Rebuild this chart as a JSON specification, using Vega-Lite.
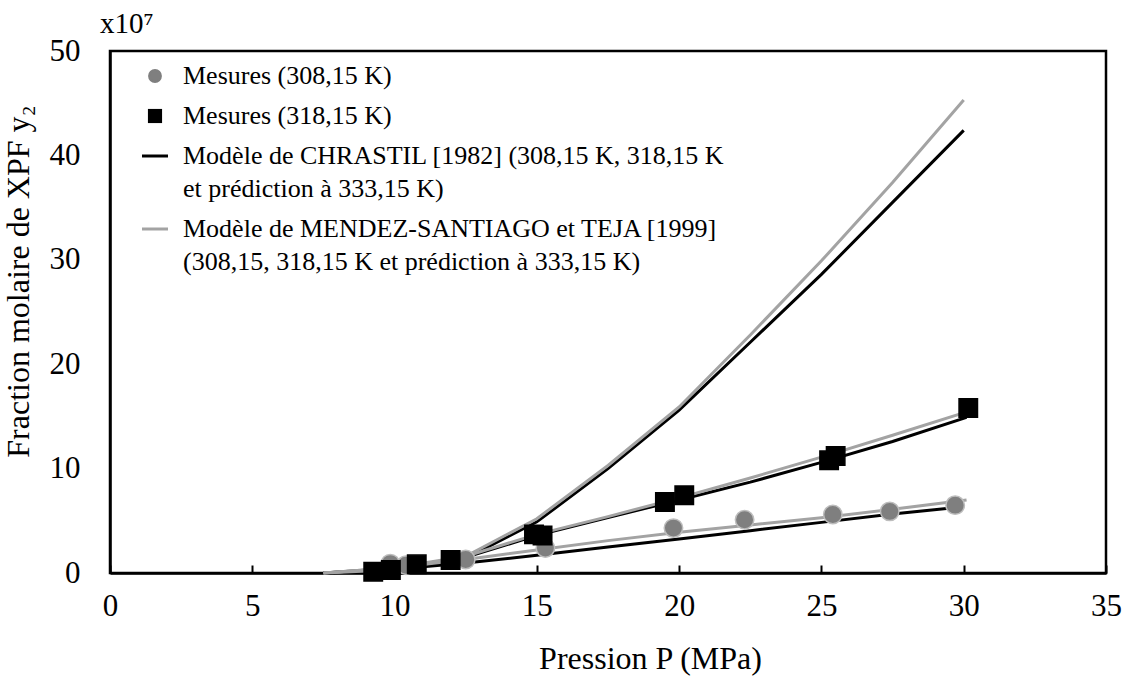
{
  "$schema": "https://vega.github.io/schema/vega-lite/v6.json",
  "width": 996,
  "height": 522,
  "autosize": {"type": "none"},
  "padding": {"left": 110, "top": 51, "right": 23, "bottom": 115},
  "background": "white",
  "config": {
    "view": {"stroke": "black", "strokeWidth": 2.5},
    "font": "Liberation Serif",
    "axis": {
      "domainColor": "black", "domainWidth": 2.5,
      "tickColor": "black", "tickWidth": 2,
      "labelColor": "black", "labelFont": "Liberation Serif", "labelFontSize": 31,
      "titleFont": "Liberation Serif", "titleFontSize": 32, "titleFontWeight": "normal", "titleColor": "black",
      "grid": false, "labelFlush": false
    }
  },
  "title": {"text": "x10⁷", "anchor": "start", "frame": "group", "fontSize": 29, "fontWeight": "normal", "font": "Liberation Serif", "color": "black", "dx": -10, "dy": 14, "offset": 10},
  "data": {"values": [
    {"type": "model", "serie": "Modèle de CHRASTIL [1982] (308,15 K, 318,15 K\net prédiction à 333,15 K)", "T": 308, "P": 7.5, "y2": 0},
    {"type": "model", "serie": "Modèle de CHRASTIL [1982] (308,15 K, 318,15 K\net prédiction à 333,15 K)", "T": 308, "P": 10, "y2": 0.35},
    {"type": "model", "serie": "Modèle de CHRASTIL [1982] (308,15 K, 318,15 K\net prédiction à 333,15 K)", "T": 308, "P": 12.5, "y2": 0.95},
    {"type": "model", "serie": "Modèle de CHRASTIL [1982] (308,15 K, 318,15 K\net prédiction à 333,15 K)", "T": 308, "P": 15, "y2": 1.7},
    {"type": "model", "serie": "Modèle de CHRASTIL [1982] (308,15 K, 318,15 K\net prédiction à 333,15 K)", "T": 308, "P": 17.5, "y2": 2.5},
    {"type": "model", "serie": "Modèle de CHRASTIL [1982] (308,15 K, 318,15 K\net prédiction à 333,15 K)", "T": 308, "P": 20, "y2": 3.25},
    {"type": "model", "serie": "Modèle de CHRASTIL [1982] (308,15 K, 318,15 K\net prédiction à 333,15 K)", "T": 308, "P": 22.5, "y2": 4.05},
    {"type": "model", "serie": "Modèle de CHRASTIL [1982] (308,15 K, 318,15 K\net prédiction à 333,15 K)", "T": 308, "P": 25, "y2": 4.85},
    {"type": "model", "serie": "Modèle de CHRASTIL [1982] (308,15 K, 318,15 K\net prédiction à 333,15 K)", "T": 308, "P": 27.5, "y2": 5.65},
    {"type": "model", "serie": "Modèle de CHRASTIL [1982] (308,15 K, 318,15 K\net prédiction à 333,15 K)", "T": 308, "P": 30, "y2": 6.35},
    {"type": "model", "serie": "Modèle de CHRASTIL [1982] (308,15 K, 318,15 K\net prédiction à 333,15 K)", "T": 318, "P": 7.5, "y2": 0},
    {"type": "model", "serie": "Modèle de CHRASTIL [1982] (308,15 K, 318,15 K\net prédiction à 333,15 K)", "T": 318, "P": 10, "y2": 0.45},
    {"type": "model", "serie": "Modèle de CHRASTIL [1982] (308,15 K, 318,15 K\net prédiction à 333,15 K)", "T": 318, "P": 12.5, "y2": 1.5},
    {"type": "model", "serie": "Modèle de CHRASTIL [1982] (308,15 K, 318,15 K\net prédiction à 333,15 K)", "T": 318, "P": 15, "y2": 3.6},
    {"type": "model", "serie": "Modèle de CHRASTIL [1982] (308,15 K, 318,15 K\net prédiction à 333,15 K)", "T": 318, "P": 17.5, "y2": 5.3},
    {"type": "model", "serie": "Modèle de CHRASTIL [1982] (308,15 K, 318,15 K\net prédiction à 333,15 K)", "T": 318, "P": 20, "y2": 7.0},
    {"type": "model", "serie": "Modèle de CHRASTIL [1982] (308,15 K, 318,15 K\net prédiction à 333,15 K)", "T": 318, "P": 22.5, "y2": 8.7},
    {"type": "model", "serie": "Modèle de CHRASTIL [1982] (308,15 K, 318,15 K\net prédiction à 333,15 K)", "T": 318, "P": 25, "y2": 10.6},
    {"type": "model", "serie": "Modèle de CHRASTIL [1982] (308,15 K, 318,15 K\net prédiction à 333,15 K)", "T": 318, "P": 27.5, "y2": 12.6},
    {"type": "model", "serie": "Modèle de CHRASTIL [1982] (308,15 K, 318,15 K\net prédiction à 333,15 K)", "T": 318, "P": 30.1, "y2": 14.9},
    {"type": "model", "serie": "Modèle de CHRASTIL [1982] (308,15 K, 318,15 K\net prédiction à 333,15 K)", "T": 333, "P": 7.5, "y2": 0},
    {"type": "model", "serie": "Modèle de CHRASTIL [1982] (308,15 K, 318,15 K\net prédiction à 333,15 K)", "T": 333, "P": 10, "y2": 0.25},
    {"type": "model", "serie": "Modèle de CHRASTIL [1982] (308,15 K, 318,15 K\net prédiction à 333,15 K)", "T": 333, "P": 12.5, "y2": 1.4},
    {"type": "model", "serie": "Modèle de CHRASTIL [1982] (308,15 K, 318,15 K\net prédiction à 333,15 K)", "T": 333, "P": 15, "y2": 4.9},
    {"type": "model", "serie": "Modèle de CHRASTIL [1982] (308,15 K, 318,15 K\net prédiction à 333,15 K)", "T": 333, "P": 17.5, "y2": 10.0},
    {"type": "model", "serie": "Modèle de CHRASTIL [1982] (308,15 K, 318,15 K\net prédiction à 333,15 K)", "T": 333, "P": 20, "y2": 15.6},
    {"type": "model", "serie": "Modèle de CHRASTIL [1982] (308,15 K, 318,15 K\net prédiction à 333,15 K)", "T": 333, "P": 22.5, "y2": 22.1},
    {"type": "model", "serie": "Modèle de CHRASTIL [1982] (308,15 K, 318,15 K\net prédiction à 333,15 K)", "T": 333, "P": 25, "y2": 28.6},
    {"type": "model", "serie": "Modèle de CHRASTIL [1982] (308,15 K, 318,15 K\net prédiction à 333,15 K)", "T": 333, "P": 27.5, "y2": 35.5},
    {"type": "model", "serie": "Modèle de CHRASTIL [1982] (308,15 K, 318,15 K\net prédiction à 333,15 K)", "T": 333, "P": 30, "y2": 42.4},
    {"type": "model", "serie": "Modèle de MENDEZ-SANTIAGO et TEJA [1999]\n(308,15, 318,15 K et prédiction à 333,15 K)", "T": 308, "P": 7.5, "y2": 0},
    {"type": "model", "serie": "Modèle de MENDEZ-SANTIAGO et TEJA [1999]\n(308,15, 318,15 K et prédiction à 333,15 K)", "T": 308, "P": 10, "y2": 0.5},
    {"type": "model", "serie": "Modèle de MENDEZ-SANTIAGO et TEJA [1999]\n(308,15, 318,15 K et prédiction à 333,15 K)", "T": 308, "P": 12.5, "y2": 1.3},
    {"type": "model", "serie": "Modèle de MENDEZ-SANTIAGO et TEJA [1999]\n(308,15, 318,15 K et prédiction à 333,15 K)", "T": 308, "P": 15, "y2": 2.2},
    {"type": "model", "serie": "Modèle de MENDEZ-SANTIAGO et TEJA [1999]\n(308,15, 318,15 K et prédiction à 333,15 K)", "T": 308, "P": 17.5, "y2": 3.1},
    {"type": "model", "serie": "Modèle de MENDEZ-SANTIAGO et TEJA [1999]\n(308,15, 318,15 K et prédiction à 333,15 K)", "T": 308, "P": 20, "y2": 3.9},
    {"type": "model", "serie": "Modèle de MENDEZ-SANTIAGO et TEJA [1999]\n(308,15, 318,15 K et prédiction à 333,15 K)", "T": 308, "P": 22.5, "y2": 4.6},
    {"type": "model", "serie": "Modèle de MENDEZ-SANTIAGO et TEJA [1999]\n(308,15, 318,15 K et prédiction à 333,15 K)", "T": 308, "P": 25, "y2": 5.3},
    {"type": "model", "serie": "Modèle de MENDEZ-SANTIAGO et TEJA [1999]\n(308,15, 318,15 K et prédiction à 333,15 K)", "T": 308, "P": 27.5, "y2": 6.1},
    {"type": "model", "serie": "Modèle de MENDEZ-SANTIAGO et TEJA [1999]\n(308,15, 318,15 K et prédiction à 333,15 K)", "T": 308, "P": 30.1, "y2": 7.0},
    {"type": "model", "serie": "Modèle de MENDEZ-SANTIAGO et TEJA [1999]\n(308,15, 318,15 K et prédiction à 333,15 K)", "T": 318, "P": 7.5, "y2": 0},
    {"type": "model", "serie": "Modèle de MENDEZ-SANTIAGO et TEJA [1999]\n(308,15, 318,15 K et prédiction à 333,15 K)", "T": 318, "P": 10, "y2": 0.5},
    {"type": "model", "serie": "Modèle de MENDEZ-SANTIAGO et TEJA [1999]\n(308,15, 318,15 K et prédiction à 333,15 K)", "T": 318, "P": 12.5, "y2": 1.6},
    {"type": "model", "serie": "Modèle de MENDEZ-SANTIAGO et TEJA [1999]\n(308,15, 318,15 K et prédiction à 333,15 K)", "T": 318, "P": 15, "y2": 3.7},
    {"type": "model", "serie": "Modèle de MENDEZ-SANTIAGO et TEJA [1999]\n(308,15, 318,15 K et prédiction à 333,15 K)", "T": 318, "P": 17.5, "y2": 5.4},
    {"type": "model", "serie": "Modèle de MENDEZ-SANTIAGO et TEJA [1999]\n(308,15, 318,15 K et prédiction à 333,15 K)", "T": 318, "P": 20, "y2": 7.2},
    {"type": "model", "serie": "Modèle de MENDEZ-SANTIAGO et TEJA [1999]\n(308,15, 318,15 K et prédiction à 333,15 K)", "T": 318, "P": 22.5, "y2": 9.1},
    {"type": "model", "serie": "Modèle de MENDEZ-SANTIAGO et TEJA [1999]\n(308,15, 318,15 K et prédiction à 333,15 K)", "T": 318, "P": 25, "y2": 11.1},
    {"type": "model", "serie": "Modèle de MENDEZ-SANTIAGO et TEJA [1999]\n(308,15, 318,15 K et prédiction à 333,15 K)", "T": 318, "P": 27.5, "y2": 13.2},
    {"type": "model", "serie": "Modèle de MENDEZ-SANTIAGO et TEJA [1999]\n(308,15, 318,15 K et prédiction à 333,15 K)", "T": 318, "P": 30.3, "y2": 15.6},
    {"type": "model", "serie": "Modèle de MENDEZ-SANTIAGO et TEJA [1999]\n(308,15, 318,15 K et prédiction à 333,15 K)", "T": 333, "P": 7.5, "y2": 0},
    {"type": "model", "serie": "Modèle de MENDEZ-SANTIAGO et TEJA [1999]\n(308,15, 318,15 K et prédiction à 333,15 K)", "T": 333, "P": 10, "y2": 0.3},
    {"type": "model", "serie": "Modèle de MENDEZ-SANTIAGO et TEJA [1999]\n(308,15, 318,15 K et prédiction à 333,15 K)", "T": 333, "P": 12.5, "y2": 1.6},
    {"type": "model", "serie": "Modèle de MENDEZ-SANTIAGO et TEJA [1999]\n(308,15, 318,15 K et prédiction à 333,15 K)", "T": 333, "P": 15, "y2": 5.2},
    {"type": "model", "serie": "Modèle de MENDEZ-SANTIAGO et TEJA [1999]\n(308,15, 318,15 K et prédiction à 333,15 K)", "T": 333, "P": 17.5, "y2": 10.3},
    {"type": "model", "serie": "Modèle de MENDEZ-SANTIAGO et TEJA [1999]\n(308,15, 318,15 K et prédiction à 333,15 K)", "T": 333, "P": 20, "y2": 15.9},
    {"type": "model", "serie": "Modèle de MENDEZ-SANTIAGO et TEJA [1999]\n(308,15, 318,15 K et prédiction à 333,15 K)", "T": 333, "P": 22.5, "y2": 22.8},
    {"type": "model", "serie": "Modèle de MENDEZ-SANTIAGO et TEJA [1999]\n(308,15, 318,15 K et prédiction à 333,15 K)", "T": 333, "P": 25, "y2": 29.9},
    {"type": "model", "serie": "Modèle de MENDEZ-SANTIAGO et TEJA [1999]\n(308,15, 318,15 K et prédiction à 333,15 K)", "T": 333, "P": 27.5, "y2": 37.4},
    {"type": "model", "serie": "Modèle de MENDEZ-SANTIAGO et TEJA [1999]\n(308,15, 318,15 K et prédiction à 333,15 K)", "T": 333, "P": 30, "y2": 45.3},
    {"type": "mesure", "serie": "Mesures (308,15 K)", "T": 308, "P": 9.85, "y2": 0.9},
    {"type": "mesure", "serie": "Mesures (308,15 K)", "T": 308, "P": 10.4, "y2": 0.75},
    {"type": "mesure", "serie": "Mesures (308,15 K)", "T": 308, "P": 12.5, "y2": 1.3},
    {"type": "mesure", "serie": "Mesures (308,15 K)", "T": 308, "P": 15.3, "y2": 2.4},
    {"type": "mesure", "serie": "Mesures (308,15 K)", "T": 308, "P": 19.8, "y2": 4.3},
    {"type": "mesure", "serie": "Mesures (308,15 K)", "T": 308, "P": 22.3, "y2": 5.1},
    {"type": "mesure", "serie": "Mesures (308,15 K)", "T": 308, "P": 25.4, "y2": 5.6},
    {"type": "mesure", "serie": "Mesures (308,15 K)", "T": 308, "P": 27.4, "y2": 5.9},
    {"type": "mesure", "serie": "Mesures (308,15 K)", "T": 308, "P": 29.7, "y2": 6.5},
    {"type": "mesure", "serie": "Mesures (318,15 K)", "T": 318, "P": 9.25, "y2": 0.12},
    {"type": "mesure", "serie": "Mesures (318,15 K)", "T": 318, "P": 9.87, "y2": 0.29},
    {"type": "mesure", "serie": "Mesures (318,15 K)", "T": 318, "P": 10.78, "y2": 0.83},
    {"type": "mesure", "serie": "Mesures (318,15 K)", "T": 318, "P": 11.97, "y2": 1.25},
    {"type": "mesure", "serie": "Mesures (318,15 K)", "T": 318, "P": 14.9, "y2": 3.7},
    {"type": "mesure", "serie": "Mesures (318,15 K)", "T": 318, "P": 15.2, "y2": 3.6},
    {"type": "mesure", "serie": "Mesures (318,15 K)", "T": 318, "P": 19.5, "y2": 6.8},
    {"type": "mesure", "serie": "Mesures (318,15 K)", "T": 318, "P": 20.18, "y2": 7.45},
    {"type": "mesure", "serie": "Mesures (318,15 K)", "T": 318, "P": 25.27, "y2": 10.8},
    {"type": "mesure", "serie": "Mesures (318,15 K)", "T": 318, "P": 25.5, "y2": 11.2},
    {"type": "mesure", "serie": "Mesures (318,15 K)", "T": 318, "P": 30.16, "y2": 15.8}
  ]},
  "encoding": {
    "x": {"field": "P", "type": "quantitative",
      "scale": {"domain": [0, 35], "nice": false, "zero": false},
      "axis": {"values": [0, 5, 10, 15, 20, 25, 30, 35], "tickSize": -8, "labelPadding": 26, "title": "Pression P (MPa)", "titlePadding": 22, "titleX": 540}},
    "y": {"field": "y2", "type": "quantitative",
      "scale": {"domain": [0, 50], "nice": false},
      "axis": {"values": [0, 10, 20, 30, 40, 50], "ticks": false, "labelPadding": 30, "title": "Fraction molaire  de XPF y₂", "titlePadding": 14, "titleY": 230}},
    "color": {"field": "serie", "type": "nominal",
      "scale": {
        "domain": ["Mesures (308,15 K)", "Mesures (318,15 K)", "Modèle de CHRASTIL [1982] (308,15 K, 318,15 K\net prédiction à 333,15 K)", "Modèle de MENDEZ-SANTIAGO et TEJA [1999]\n(308,15, 318,15 K et prédiction à 333,15 K)"],
        "range": ["#7f7f7f", "#000000", "#000000", "#a3a3a3"]},
      "legend": {
        "title": null, "orient": "none", "legendX": 32, "legendY": 12,
        "labelFont": "Liberation Serif", "labelFontSize": 26, "labelColor": "black", "labelLimit": 0,
        "labelOffset": 15, "rowPadding": 14, "symbolSize": 676, "labelBaseline": "top",
        "encode": {
          "symbols": {"update": {
            "fill": {"signal": "scale('color', datum.value)"},
            "stroke": {"signal": "datum.value == 'Mesures (308,15 K)' ? '#c4c4c4' : scale('color', datum.value)"},
            "strokeWidth": {"signal": "datum.value == 'Mesures (308,15 K)' ? 2 : datum.value == 'Mesures (318,15 K)' ? 0 : 3"},
            "size": {"signal": "datum.value == 'Mesures (308,15 K)' ? 140 : datum.value == 'Mesures (318,15 K)' ? 200 : 676"},
            "opacity": {"value": 1}
          }},
          "labels": {"update": {
            "text": {"signal": "split(datum.value, '\\n')"},
            "lineHeight": {"value": 33},
            "dy": {"value": -13}
          }}
        }
      }}
  },
  "layer": [
    {
      "transform": [{"filter": "datum.type == 'model'"}],
      "mark": {"type": "line", "strokeWidth": 3},
      "encoding": {"detail": {"field": "T", "type": "nominal"}}
    },
    {
      "transform": [{"filter": "datum.type == 'mesure'"}],
      "mark": {"type": "point", "filled": true, "size": 340, "opacity": 1},
      "encoding": {
        "shape": {"field": "serie", "type": "nominal",
          "scale": {
            "domain": ["Mesures (308,15 K)", "Mesures (318,15 K)", "Modèle de CHRASTIL [1982] (308,15 K, 318,15 K\net prédiction à 333,15 K)", "Modèle de MENDEZ-SANTIAGO et TEJA [1999]\n(308,15, 318,15 K et prédiction à 333,15 K)"],
            "range": ["circle", "square", "stroke", "stroke"]}},
        "stroke": {"condition": {"test": "datum.serie == 'Mesures (308,15 K)'", "value": "#bdbdbd"}, "value": "#000000"},
        "strokeWidth": {"value": 1.5}
      }
    }
  ]
}
